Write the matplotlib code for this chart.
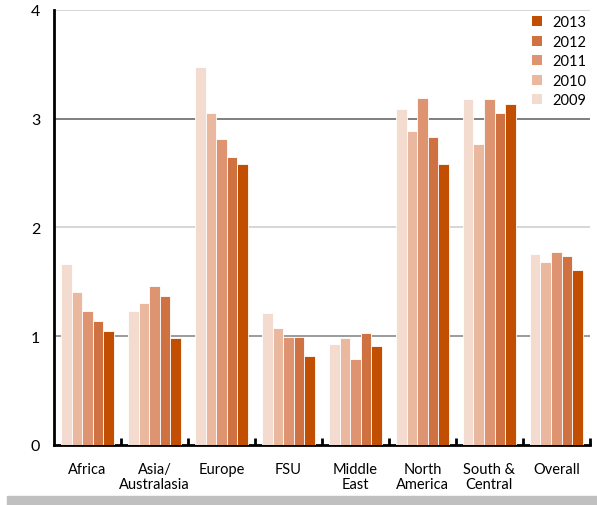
import numpy as np
import matplotlib
matplotlib.use("Agg")
import matplotlib.pyplot as plt
import matplotlib.patches as mpatches

regions = ["Africa", "Asia/\nAustralasia", "Europe", "FSU", "Middle\nEast",
           "North\nAmerica", "South &\nCentral", "Overall"]
years = ["2009", "2010", "2011", "2012", "2013"]

v2009 = [1.66, 1.23, 3.48, 1.21, 0.93, 3.09, 3.18, 1.76]
v2010 = [1.41, 1.31, 3.05, 1.08, 0.98, 2.89, 2.77, 1.68]
v2011 = [1.23, 1.46, 2.81, 0.99, 0.79, 3.19, 3.18, 1.77]
v2012 = [1.14, 1.37, 2.65, 0.99, 1.03, 2.83, 3.05, 1.74]
v2013 = [1.05, 0.98, 2.58, 0.82, 0.91, 2.58, 3.14, 1.61]

series = [v2009, v2010, v2011, v2012, v2013]
colors = ["#F4DBCF", "#EAB89E", "#DE9471", "#CF7140", "#C14E01"]

plt.rcParams["font.family"] = ["Lato", "DejaVu Sans"]

fig = plt.figure(figsize=(5.97, 5.06), dpi=100)
ax = fig.add_axes([0.0905, 0.1186, 0.8975, 0.8597])

n = len(regions)
x = np.arange(n)
bw = 0.158
for i, (vals, col) in enumerate(zip(series, colors)):
    ax.bar(x + (i - 2) * bw, vals, width=bw, color=col,
           edgecolor="white", linewidth=0.6, label=years[i], zorder=3)

ax.set_xlim(-0.5, n - 0.5)
ax.set_ylim(0, 4)

# horizontal guide lines
for yv, gc in [(1, "#8a8a8a"), (2, "#d0d0d0"), (3, "#6a6a6a"), (4, "#d0d0d0")]:
    ax.axhline(yv, color=gc, linewidth=1.2, zorder=1)

for s in ["top", "right"]:
    ax.spines[s].set_visible(False)
ax.spines["left"].set_linewidth(2)
ax.spines["bottom"].set_linewidth(2)

ax.set_yticks([0, 1, 2, 3, 4])
ax.set_yticklabels(["0", "1", "2", "3", "4"], fontsize=11.5)
ax.tick_params(axis="y", length=0, pad=10)

ax.set_xticks(x)
ax.set_xticklabels(regions, fontsize=10.5, linespacing=1.1)
ax.tick_params(axis="x", length=0, pad=12)
# small upward ticks at group boundaries
ax.set_xticks(np.arange(0.5, n, 1.0), minor=True)
ax.tick_params(axis="x", which="minor", direction="in", length=5, width=2)

handles = [mpatches.Patch(facecolor=c, label=y) for y, c in zip(years, colors)][::-1]
ax.legend(handles=handles, loc="upper right", bbox_to_anchor=(1.018, 1.018),
          frameon=False, fontsize=10.5, handlelength=0.7, handleheight=0.7,
          labelspacing=0.38, handletextpad=0.7)

# grey strip along the bottom
fig.patches.append(mpatches.Rectangle((7 / 597, 0), 590 / 597, 9 / 506,
                                      transform=fig.transFigure,
                                      color="#c0c0c0", zorder=0))

fig.savefig("out.png", dpi=100)
